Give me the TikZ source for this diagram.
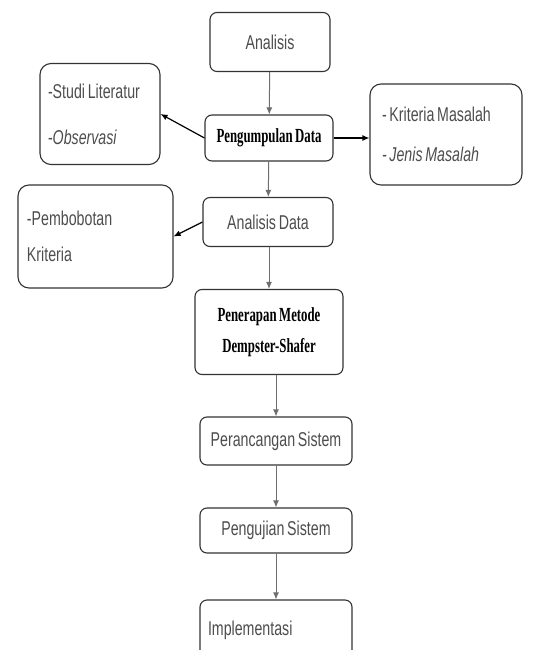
\documentclass[tikz,border=0pt]{standalone}
\usepackage{fontspec}
\setmainfont{Liberation Sans}[FakeStretch=0.71,WordSpace=0.7]
\newfontfamily\timesbold{Liberation Serif}[FakeStretch=0.64,WordSpace=0.8]
\usepackage[HTML]{xcolor}
\usepackage{tikz}
\usetikzlibrary{positioning, arrows, arrows.meta}

\definecolor{boxline}{HTML}{333333}
\definecolor{txt}{HTML}{4D4D4D}
\definecolor{flow}{HTML}{6E6E6E}

\begin{document}
\begin{tikzpicture}[x=1pt,y=-1pt,
  box/.style={draw=boxline,line width=1.1pt,rounded corners=7pt,inner xsep=8pt,inner ysep=0pt,
    text=txt,font=\fontsize{20}{24}\selectfont},
  sidebox/.style={box,rounded corners=11pt,align=flush left},
  strong/.style={text=black,font=\fontsize{20}{24}\selectfont\timesbold\bfseries},
  flowarrow/.style={draw=flow,line width=1pt,-{Latex[length=7pt,width=6pt]}},
  sidearrow/.style={draw=black,line width=1.2pt,-{Latex[length=7pt,width=6pt]}}]
\clip (0,0) rectangle (536,650);
\node[box,minimum width=120pt,minimum height=59pt] (analisis) at (270,42) {Analisis};
\node[box,strong,minimum width=128pt,minimum height=46pt] (kumpul) at (269,138) {Pengumpulan Data};
\node[sidebox,text width=104pt,minimum height=101pt] (studi) at (100,114) {-Studi Literatur\\[22pt]-\textit{Observasi}};
\node[sidebox,inner xsep=12pt,text width=128pt,minimum height=101pt] (kriteria) at (446,134.5) {- Kriteria Masalah\\[16pt]\textit{- Jenis Masalah}};
\node[box,minimum width=130pt,minimum height=49pt] (adata) at (268,222) {Analisis Data};
\node[sidebox,inner xsep=9pt,text width=137pt,minimum height=103pt] (bobot) at (95.5,236.5) {-Pembobotan\\[12pt]Kriteria};
\node[box,strong,align=center,minimum width=148pt,minimum height=85pt] (terap) at (269,332) {Penerapan Metode\\[7pt]Dempster-Shafer};
\node[box,minimum width=152pt,minimum height=48pt] (rancang) at (276,441) {Perancangan Sistem};
\node[box,minimum width=152pt,minimum height=45pt] (uji) at (276,530.5) {Pengujian Sistem};
\node[box,align=flush left,text width=136pt,minimum height=60pt] (impl) at (276,630) {Implementasi};

\draw[flowarrow] (analisis) -- (kumpul);
\draw[flowarrow] (kumpul) -- (adata);
\draw[flowarrow] (adata.south -| terap.north) -- (terap);
\draw[flowarrow] (rancang.north |- terap.south) -- (rancang);
\draw[flowarrow] (rancang) -- (uji);
\draw[flowarrow] (uji) -- (impl);
\draw[sidearrow] (kumpul.west) -- (studi.east);
\draw[sidearrow] (kumpul.east) -- (kriteria.west |- kumpul.east);
\draw[sidearrow] (adata.west) -- (bobot.east);
\end{tikzpicture}
\end{document}
